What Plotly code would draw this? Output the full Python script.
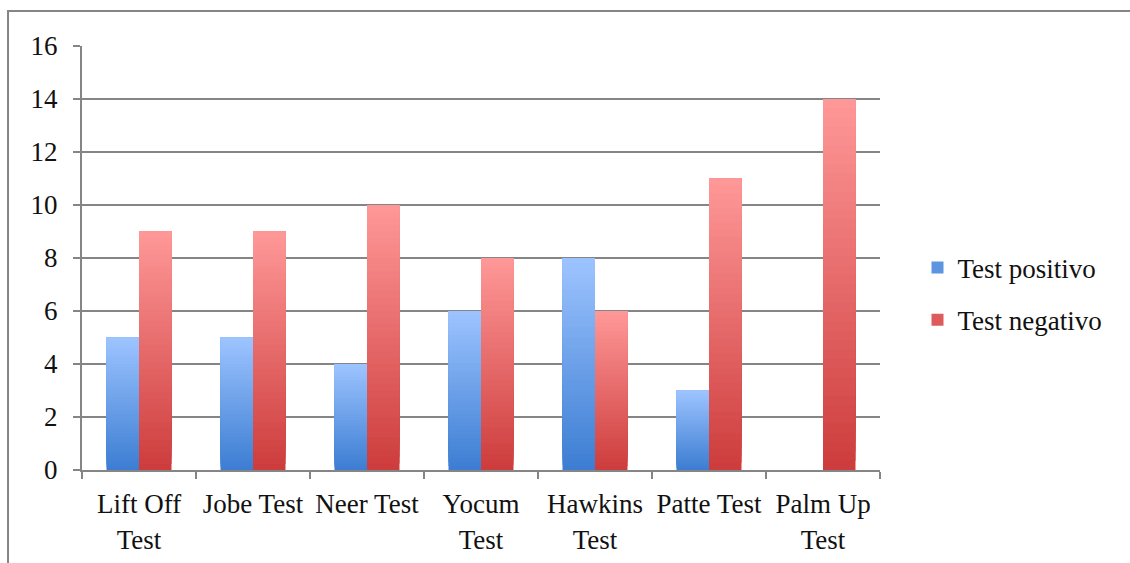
import plotly.graph_objects as go

categories = ["Lift Off<br>Test", "Jobe Test", "Neer Test", "Yocum<br>Test",
              "Hawkins<br>Test", "Patte Test", "Palm Up<br>Test"]
test_positivo = [5, 5, 4, 6, 8, 3, 0]
test_negativo = [9, 9, 10, 8, 6, 11, 14]
y_ticks = [0, 2, 4, 6, 8, 10, 12, 14, 16]

series = [
    ("Test positivo", test_positivo, (60, 125, 210), (157, 196, 255), -0.285),
    ("Test negativo", test_negativo, (205, 60, 60), (255, 152, 152), 0.0),
]

N = 40
fig = go.Figure()


def mix(c0, c1, t):
    return "rgb(%d,%d,%d)" % tuple(round(a + (b - a) * t) for a, b in zip(c0, c1))


for gi, (name, vals, c_bot, c_top, off) in enumerate(series):
    for k in range(N):
        t = (k + 0.5) / N
        fig.add_trace(go.Bar(
            x=categories,
            y=[v * (N - k) / N for v in vals],
            base=[v * k / N for v in vals],
            width=0.285,
            offset=off,
            marker=dict(color=mix(c_bot, c_top, t), line=dict(width=0)),
            name=name,
            legendgroup=name,
            showlegend=(k == N // 3),
            hoverinfo="skip",
        ))

font_family = "Liberation Serif, Times New Roman, serif"
grid_c = "#858585"
fs = 27

fig.update_layout(
    width=1130, height=563,
    barmode="overlay",
    paper_bgcolor="white", plot_bgcolor="white",
    margin=dict(l=82, r=250, t=46, b=93, autoexpand=False),
    font=dict(family=font_family, size=fs, color="#111111"),
    xaxis=dict(
        type="category", categoryorder="array", categoryarray=categories,
        showgrid=False, showline=True, linecolor=grid_c, linewidth=2,
        ticks="outside", tickson="boundaries", ticklen=7, tickcolor=grid_c, tickwidth=2,
        tickfont=dict(size=fs), range=[-0.5, 6.5], ticklabelstandoff=9,
        tickangle=0, automargin=False,
    ),
    yaxis=dict(
        range=[0, 16], tickvals=y_ticks, showgrid=True, gridcolor=grid_c, gridwidth=2,
        showline=True, linecolor=grid_c, linewidth=2, zeroline=False,
        ticks="outside", ticklen=7, tickcolor=grid_c, tickwidth=2,
        tickfont=dict(size=fs), ticklabelstandoff=10, automargin=False,
    ),
    legend=dict(
        x=1.047, y=0.415, xanchor="left", yanchor="middle",
        font=dict(size=fs), traceorder="grouped", tracegroupgap=14,
        itemwidth=30, bgcolor="rgba(0,0,0,0)",
    ),
    shapes=[dict(
        type="rect", xref="paper", yref="paper",
        x0=-0.0927, x1=1.33, y0=-0.25, y1=1.0825,
        line=dict(color=grid_c, width=2), fillcolor="rgba(0,0,0,0)", layer="below",
    )],
)

fig.write_html("out.html")
